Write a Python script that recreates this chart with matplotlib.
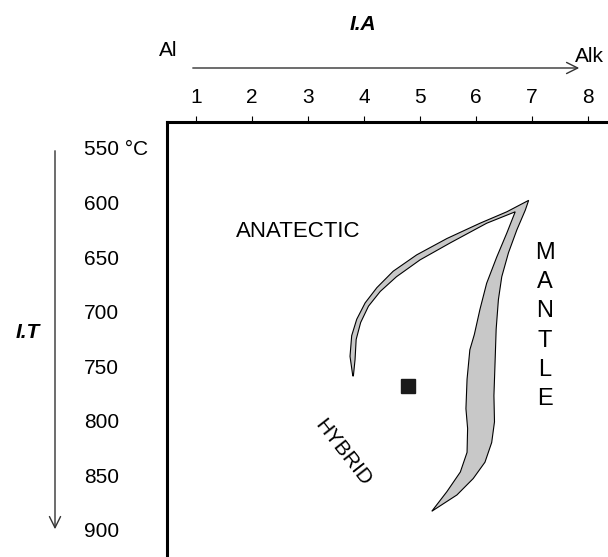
import matplotlib
matplotlib.use("Agg")
import matplotlib.pyplot as plt
from matplotlib.patches import Polygon

plt.rcParams['font.family'] = ['Liberation Sans', 'DejaVu Sans']

# ---- data ----
x_ticks = [1, 2, 3, 4, 5, 6, 7, 8]
y_ticks = [550, 600, 650, 700, 750, 800, 850, 900]
y_tick_labels = ['550 °C', '600', '650', '700', '750', '800', '850', '900']

# outline of the grey field (I.A, temperature)
shape_x = [3.80, 3.75, 3.78, 3.87, 4.02, 4.23, 4.52, 4.94, 5.48, 6.07, 6.55, 6.94,
           6.88, 6.73, 6.58, 6.46, 6.40, 6.36, 6.34, 6.32, 6.33, 6.28, 6.16, 5.95, 5.66, 5.21,
           5.48, 5.72, 5.84, 5.85, 5.82, 5.84, 5.89, 5.97, 6.07, 6.19, 6.37, 6.55, 6.70,
           6.19, 5.54, 5.00, 4.58, 4.29, 4.08, 3.94, 3.86, 3.84, 3.81]
shape_T = [759, 741, 722, 707, 692, 678, 663, 648, 633, 619, 608.5, 598,
           607, 625, 646, 668, 689, 716, 747, 777, 801, 820, 838, 853, 868, 883,
           865, 847, 829, 807, 789, 762, 735, 721, 698, 674, 650, 628, 608.5,
           619, 637, 652.6, 668, 681.5, 695, 710, 725.5, 744, 759]

point_x = [4.78]
point_T = [768]

fig = plt.figure(figsize=(6.08, 5.57), dpi=100)
ax = fig.add_axes([167/608, 0, 1 - 167/608, 1 - 122/557])
ax.set_xlim(0.482, 8.357)
ax.set_ylim(924.9, 526.2)

for s in ['right', 'bottom']:
    ax.spines[s].set_visible(False)
for s in ['top', 'left']:
    ax.spines[s].set_linewidth(2.2)

ax.xaxis.tick_top()
ax.set_xticks(x_ticks)
ax.set_xticklabels([str(v) for v in x_ticks])
ax.tick_params(axis='x', direction='out', length=4, width=0.8, pad=7, labelsize=15)
ax.set_yticks(y_ticks)
ax.set_yticklabels(y_tick_labels)
ax.tick_params(axis='y', length=0, pad=60, labelsize=15)
for lab in ax.get_yticklabels():
    lab.set_horizontalalignment('left')

poly = Polygon(list(zip(shape_x, shape_T)), closed=True, facecolor='#c8c8c8',
               edgecolor='black', linewidth=0.8)
ax.add_patch(poly)
ax.plot(point_x, point_T, marker='s', color='#1a1a1a', markersize=10, linestyle='none')

ax.text(2.83, 627, 'ANATECTIC', fontsize=16, ha='center', va='center')
ax.text(3.62, 829, 'HYBRID', fontsize=15, ha='center', va='center', rotation=-52,
        rotation_mode='anchor')
for i, ch in enumerate('MANTLE'):
    ax.text(7.23, 646 + i * 26.9, ch, fontsize=17, ha='center', va='center')

# top arrow and labels (figure pixel coordinates)
W, H = 608, 557
def fx(p): return p / W
def fy(p): return 1 - p / H

fig.patches.append(matplotlib.patches.FancyArrowPatch(
    (fx(190), fy(68)), (fx(582), fy(68)), transform=fig.transFigure,
    arrowstyle='->,head_length=8,head_width=4', color='#333333', linewidth=1.0))
fig.text(fx(168), fy(50), 'Al', fontsize=15, ha='center', va='center')
fig.text(fx(589), fy(56), 'Alk', fontsize=15, ha='center', va='center')
fig.text(fx(363), fy(25), 'I.A', fontsize=15, ha='center', va='center',
         fontweight='bold', fontstyle='italic')

fig.patches.append(matplotlib.patches.FancyArrowPatch(
    (fx(55), fy(148)), (fx(55), fy(532)), transform=fig.transFigure,
    arrowstyle='->,head_length=8,head_width=4', color='#333333', linewidth=1.0))
fig.text(fx(28), fy(333), 'I.T', fontsize=15, ha='center', va='center',
         fontweight='bold', fontstyle='italic')

fig.savefig('out.png', dpi=100)
